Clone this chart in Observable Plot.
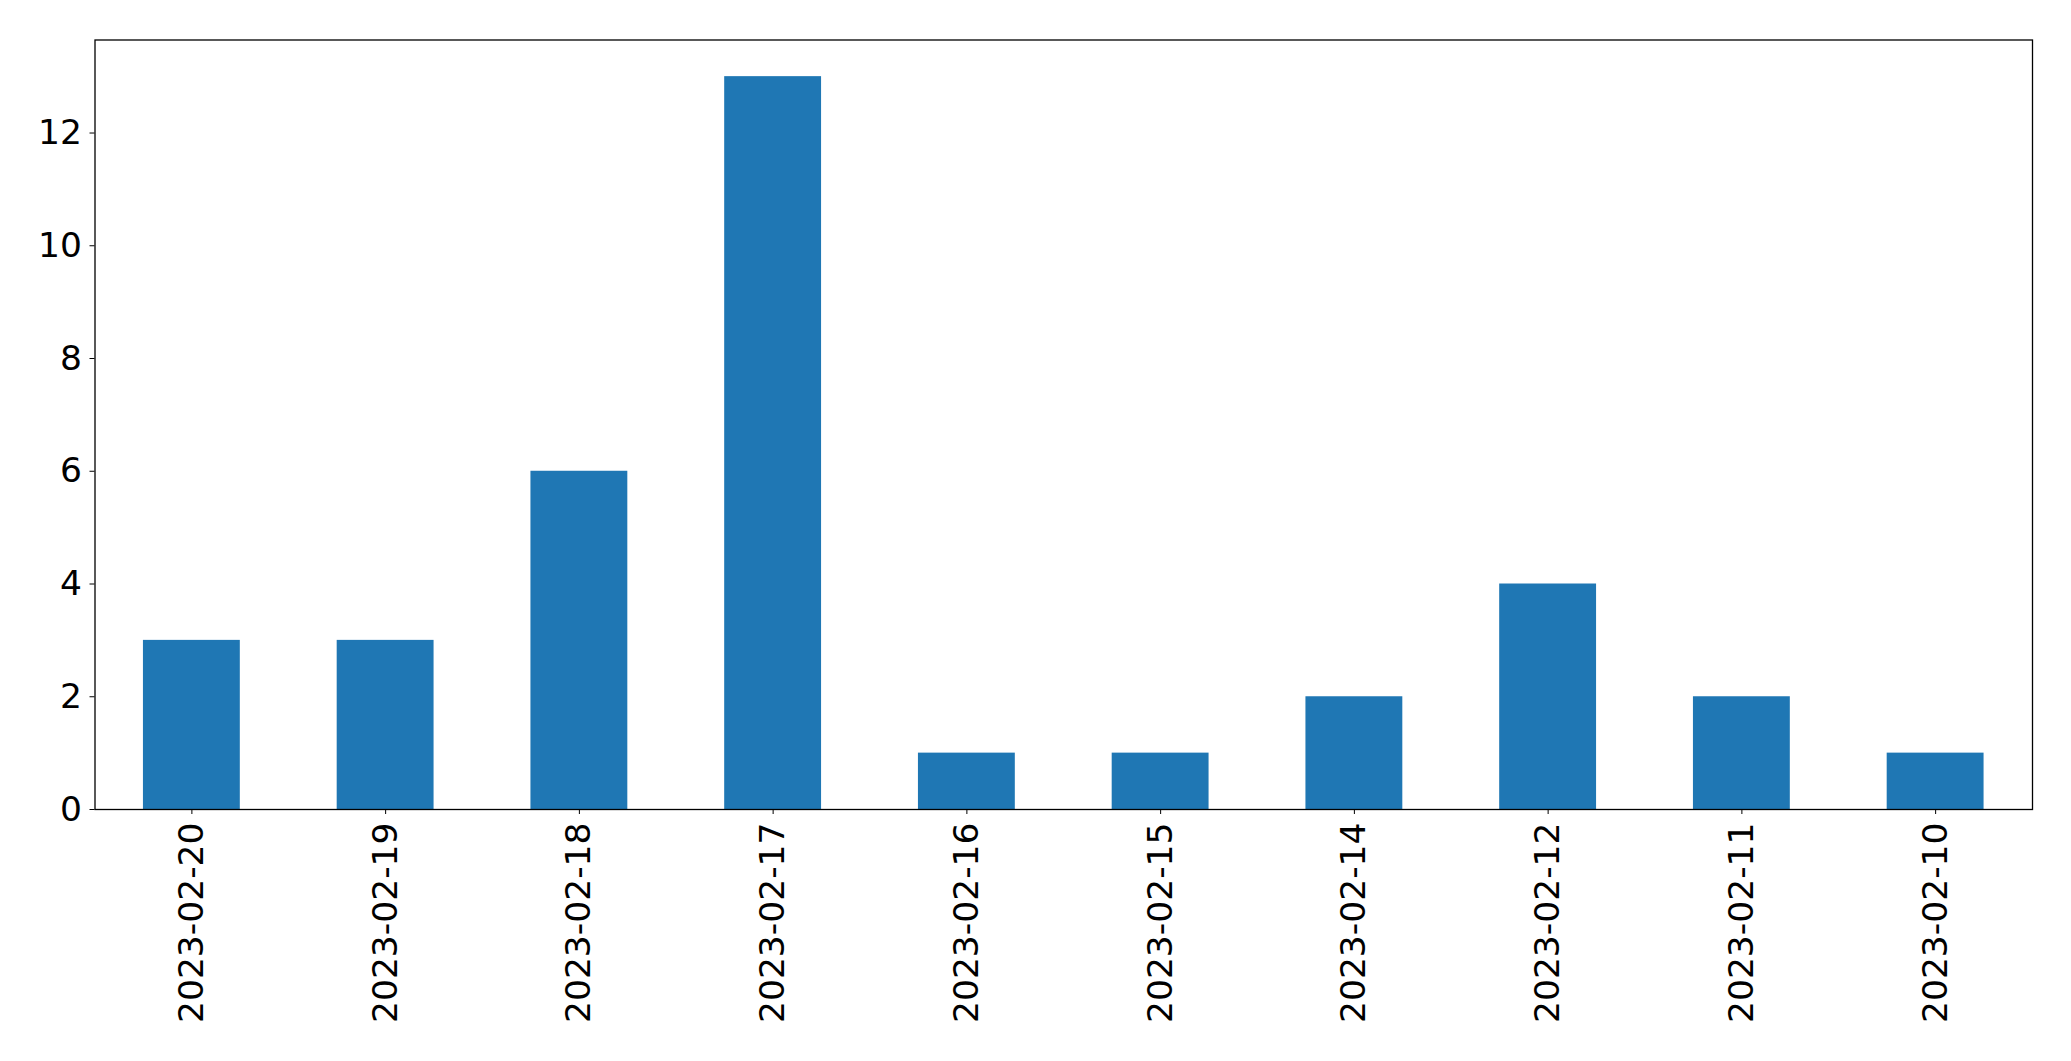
<!DOCTYPE html>
<html>
<head>
<meta charset="utf-8">
<script src="https://cdn.jsdelivr.net/npm/d3@7"></script>
<script src="https://cdn.jsdelivr.net/npm/@observablehq/plot@0.6"></script>
<style>
html, body { margin: 0; padding: 0; background: #fff; }
svg { display: block; }
</style>
</head>
<body>
<div id="chart"></div>
<script>
const dates = ["2023-02-20", "2023-02-19", "2023-02-18", "2023-02-17", "2023-02-16", "2023-02-15", "2023-02-14", "2023-02-12", "2023-02-11", "2023-02-10"];
const counts = [3, 3, 6, 13, 1, 1, 2, 4, 2, 1];
const yTicks = [0, 2, 4, 6, 8, 10, 12];

const data = dates.map((d, i) => ({date: d, count: counts[i]}));

const chart = Plot.plot({
  width: 2071,
  height: 1061,
  marginLeft: 94.5,
  marginRight: 39,
  marginTop: 39.5,
  marginBottom: 252,
  style: {fontFamily: "DejaVu Sans", fontSize: "34.5px", color: "#000", background: "#fff"},
  x: {domain: dates, paddingInner: 0.5, paddingOuter: 0.25, align: 0.5, round: false, label: null},
  y: {domain: [0, 13.65], label: null},
  marks: [
    Plot.barY(data, {x: "date", y: "count", fill: "#1f77b4"}),
    Plot.frame({stroke: "#000", strokeWidth: 1.3}),
    Plot.axisY({ticks: yTicks, tickSize: 5, tickPadding: 8, fontSize: 34.5, label: null, tickFormat: d3.format("d")}),
    Plot.axisX({tickSize: 5, tickPadding: 8, tickRotate: -90, fontSize: 34.5, label: null})
  ]
});
document.getElementById("chart").appendChild(chart);
</script>
</body>
</html>
